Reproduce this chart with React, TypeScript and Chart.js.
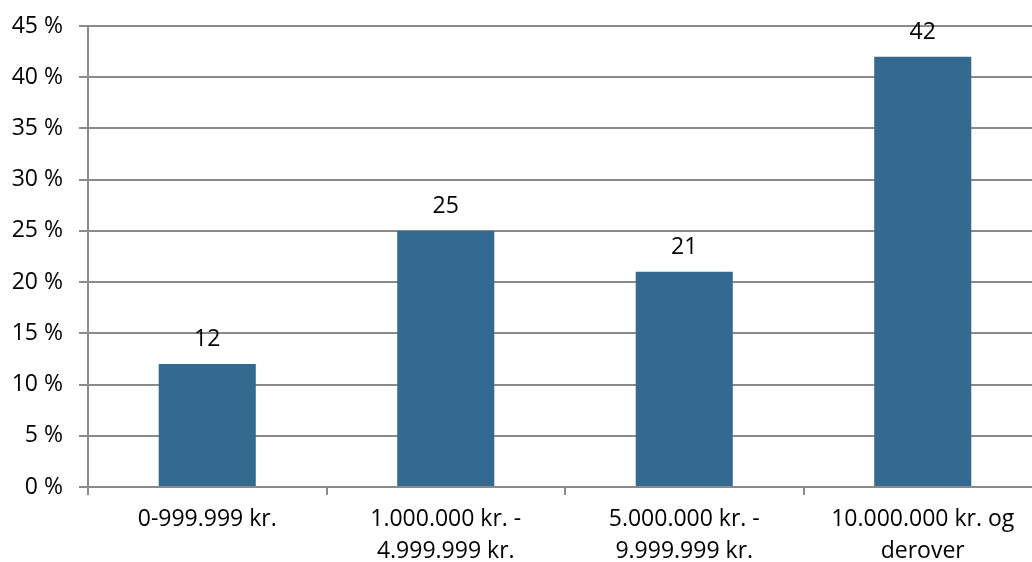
import React, { useEffect, useRef } from "react";
import { Chart, registerables } from "chart.js";

Chart.register(...registerables);

const categories: (string | string[])[] = [
  "0-999.999 kr.",
  ["1.000.000 kr. -", "4.999.999 kr."],
  ["5.000.000 kr. -", "9.999.999 kr."],
  ["10.000.000 kr. og", "derover"],
];
const values: number[] = [12, 25, 21, 42];
const yMin = 0;
const yMax = 45;
const yStep = 5;

const FONT = "'Open Sans', 'DejaVu Sans', sans-serif";
const GRID = "#8a8a8a";
const BAR = "#346A8F";

const valueLabels = {
  id: "valueLabels",
  afterDatasetsDraw(chart: any) {
    const ctx = chart.ctx;
    const meta = chart.getDatasetMeta(0);
    ctx.save();
    ctx.font = `23px ${FONT}`;
    ctx.fillStyle = "#000";
    ctx.textAlign = "center";
    ctx.textBaseline = "alphabetic";
    meta.data.forEach((el: any, i: number) => {
      ctx.fillText(String(values[i]), el.x, el.y - 18);
    });
    ctx.restore();
  },
};

export default function App() {
  const ref = useRef<HTMLCanvasElement | null>(null);
  useEffect(() => {
    if (!ref.current) return;
    const chart = new Chart(ref.current, {
      type: "bar",
      data: {
        labels: categories as any,
        datasets: [
          {
            data: values,
            backgroundColor: BAR,
            borderWidth: 0,
            categoryPercentage: 1,
            barPercentage: 0.407,
          },
        ],
      },
      options: {
        responsive: false,
        animation: false,
        layout: { padding: { top: 26, left: 0, right: 8, bottom: 0 } },
        plugins: { legend: { display: false }, tooltip: { enabled: false } },
        scales: {
          x: {
            grid: {
              drawOnChartArea: false,
              drawTicks: true,
              tickLength: 8,
              color: GRID,
              lineWidth: 2,
            },
            border: { color: GRID, width: 2 },
            ticks: {
              color: "#000",
              font: { family: FONT, size: 23, lineHeight: 1.37 },
              padding: 9,
              maxRotation: 0,
              autoSkip: false,
            },
            afterFit: (s: any) => {
              s.height = 75;
              s.paddingLeft = 0;
              s.paddingRight = 0;
            },
          },
          y: {
            min: yMin,
            max: yMax,
            grid: { color: GRID, lineWidth: 2, tickLength: 9 },
            border: { color: GRID, width: 2 },
            ticks: {
              stepSize: yStep,
              color: "#000",
              font: { family: FONT, size: 23 },
              padding: 16,
              callback: (v: any) => `${v} %`,
            },
            afterFit: (s: any) => {
              s.width = 88;
              s.paddingTop = 0;
              s.paddingBottom = 0;
            },
          },
        },
      },
      plugins: [valueLabels],
    });
    return () => chart.destroy();
  }, []);
  return (
    <div
      style={{
        position: "fixed",
        left: 0,
        top: 0,
        width: 1032,
        height: 562,
        overflow: "hidden",
        background: "#fff",
      }}
    >
      <canvas ref={ref} width={1050} height={562} style={{ display: "block" }} />
    </div>
  );
}
